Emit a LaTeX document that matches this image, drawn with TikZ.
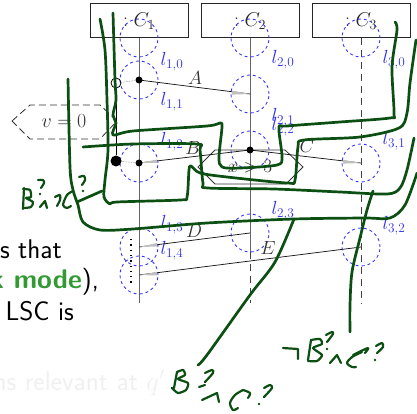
\RequirePackage{fix-cm}
\documentclass[tikz,border=0pt]{standalone}
\usepackage{amsmath}
\definecolor{ink}{HTML}{0B4F12}
\definecolor{lblue}{HTML}{3030F0}
\definecolor{alert}{HTML}{339933}
\tikzset{
 x=1pt,y=-1pt,
 inst/.style={draw=black!85,line width=1pt,minimum width=98pt,minimum height=34pt,inner sep=0pt,text=black!85,font=\fontsize{20}{22}\selectfont},
 life/.style={draw=black!60,line width=0.9pt},
 dashlife/.style={draw=black!75,line width=0.9pt,dash pattern=on 7pt off 5pt},
 loc/.style={draw=blue!80,dash pattern=on 3pt off 3pt,line width=0.85pt,circle,minimum size=38pt,inner sep=0pt},
 lbl/.style={text=lblue,font=\fontsize{19}{21}\selectfont,inner sep=0pt},
 msg/.style={draw=black!90,line width=0.75pt},
 head/.style={fill=black!25,draw=none},
 mname/.style={text=black!80,font=\fontsize{19}{21}\selectfont,inner sep=0pt},
 dot/.style={circle,fill=black,inner sep=0pt,minimum size=7pt},
 body/.style={font=\sffamily\fontsize{27}{30}\selectfont,inner sep=0pt,anchor=base east},
 pen/.style={draw=ink,line width=2.7pt,line cap=round,line join=round},
 pent/.style={draw=ink,line width=2.2pt,line cap=round,line join=round},
 hexa/.style={draw=black!80,line width=0.8pt},
}
\begin{document}
\begin{tikzpicture}
\useasboundingbox (0,0) rectangle (417,414);
% text behind
\node[body] (t1) at (62,258) {s that};
\node[body] (t2) at (99,288) {\textcolor{alert}{\bfseries k mode}),};
\node[body] (t3) at (74,320) {LSC is};
\node[body,text=black!6] (t4) at (165,390) {ns relevant at $q'$};
% instances
\node[inst] (c1) at (139,21) {$:C_1$};
\node[inst] (c2) at (250,21) {$:C_2$};
\node[inst] (c3) at (361,21) {$:C_3$};
\coordinate (e1) at (139,303);
\coordinate (s2) at (250,252);
\coordinate (e2) at (250,303);
\coordinate (e3) at (361,303);
\draw[life] (c1.south) -- (e1);
\draw[life] (c2.south) -- (s2);
\draw[dashlife] (s2) -- (e2);
\draw[dashlife] (c3.south) -- (e3);
% locations
\foreach \n/\x/\y in {a0/139/38,a1/139/80,a2/139/163,a3/139/247,a4/139/275,b0/250/38,b1/250/94,b2/250/150,b3/250/233,d0/361/38,d1/361/163,d2/361/247}
  \node[loc] (\n) at (\x,\y) {};
\node[lbl] (n10) at (172,62) {$l_{1,0}$};
\node[lbl] (n11) at (172,102) {$l_{1,1}$};
\node[lbl] (n12) at (172,142) {$l_{1,2}$};
\node[lbl] (n13) at (172,225) {$l_{1,3}$};
\node[lbl] (n14) at (172,251) {$l_{1,4}$};
\node[lbl] (n20) at (283,60) {$l_{2,0}$};
\node[lbl] (n21) at (283,118) {$l_{2,1}$};
\node[lbl] (n22) at (283,127) {$l_{2,2}$};
\node[lbl] (n23) at (283,211) {$l_{2,3}$};
\node[lbl] (n30) at (394,60) {$l_{3,0}$};
\node[lbl] (n31) at (394,141) {$l_{3,1}$};
\node[lbl] (n32) at (394,226) {$l_{3,2}$};
% hexagons
\coordinate (v1) at (12,121);\coordinate (v2) at (30,105);\coordinate (v3) at (100,105);
\coordinate (v4) at (117,121);\coordinate (v5) at (100,139);\coordinate (v6) at (30,139);
\draw[hexa,dash pattern=on 7pt off 4pt] (v1)--(v2)--(v3)--(v4)--(v5)--(v6)--cycle;
\node[text=black!80,font=\fontsize{20}{22}\selectfont,inner sep=0pt] (vt) at (64,121) {$v=0$};
\coordinate (x1) at (198,167);\coordinate (x2) at (215,150);\coordinate (x3) at (285,150);
\coordinate (x4) at (303,167);\coordinate (x5) at (286,184);\coordinate (x6) at (215,184);
\draw[hexa] (x1)--(x2)--(x3)--(x4)--(x5)--(x6)--cycle;
\node[text=black!80,font=\fontsize{19}{21}\selectfont,inner sep=0pt] (xt) at (250,167) {$x>3$};
% messages
\draw[msg] (a1.center) -- (b1.center);
\draw[msg] (a2.center) -- (b2.center);
\draw[msg] (b2.center) -- (d1.center);
\draw[msg] (b3.center) -- (a3.center);
\draw[msg] (d2.center) -- (a4.center);
\fill[head] (250,94) -- (232,90.6) -- (232,94.6) -- cycle;
\fill[head] (139,163) -- (157,159.5) -- (157,163) -- cycle;
\fill[head] (361,163) -- (343,159.8) -- (343,163.6) -- cycle;
\fill[head] (139,247) -- (157,243) -- (157,246.5) -- cycle;
\fill[head] (139,275) -- (157,272) -- (157,275.5) -- cycle;
\node[mname] (ma) at (195,78) {$A$};
\node[mname] (mb) at (193,148) {$B$};
\node[mname] (mc) at (307,146) {$C$};
\node[mname] (md) at (194,231) {$D$};
\node[mname] (me) at (268,248) {$E$};
% events
\node[dot] (p1) at (139,80) {};
\node[dot] (p2) at (139,163) {};
\node[dot] (p3) at (250,150) {};
% condition
\node[circle,draw=black,line width=0.8pt,inner sep=0pt,minimum size=10pt] (o1) at (116,83) {};
\node[circle,fill=black,inner sep=0pt,minimum size=11pt] (o2) at (116,161) {};
\draw[black,line width=0.8pt] (o1) -- (o2);
\draw[black!50,densely dotted,line width=0.6pt] (o1) -- (p1);
\draw[black!50,densely dotted,line width=0.6pt] (o2) -- (p2);
% coregion
\coordinate (k1) at (131,239);\coordinate (k2) at (131,285);
\draw[black,line width=1.3pt,dash pattern=on 1.3pt off 4pt] (k1) -- (k2);
% hand strokes
\draw[pen] plot[smooth,tension=.5] coordinates {(100,19)(105,50)(107,100)(108,150)(105,180)(104,197)(110,204)(117,202)(180,200)(187,197)(189,170)(191,166)(200,173)(227,177)(287,183)(295,180)(298,147)(304,140)(360,137)(399,128)(407,113)(410,83)(416,40)};
\draw[pen] plot[smooth,tension=.5] coordinates {(113,13)(115,80)(116,100)(113,115)(116,123)(113,135)(133,131)(207,126)(220,123)(222,127)(219,157)(222,167)(240,168)(277,165)(282,157)(279,128)(287,126)(340,122)(390,118)(394,113)(392,67)(397,30)(395,22)};
\draw[pen] plot[smooth,tension=.5] coordinates {(83,147)(133,144)(197,144)(200,150)(203,183)(208,188)(274,189)(340,192)(387,194)(400,188)(407,170)(414,138)};
\draw[pen] plot[smooth,tension=.5] coordinates {(68,79)(70,167)(73,190)(78,205)(83,222)(100,230)(133,229)(207,223)(294,219)(364,218)(390,218)(405,205)(417,173)};
\draw[pen] (77,202) -- (102,191);
\draw[pen] plot[smooth,tension=.5] coordinates {(294,219)(275,262)(250,295)(207,355)(198,365)};
\draw[pen] plot[smooth,tension=.5] coordinates {(373,191)(367,210)(360,238)(352,272)(350,305)(350,332)};
% left B?^C?
\draw[pent] plot[smooth,tension=.4] coordinates {(24,188)(23,209)};
\draw[pent] plot[smooth,tension=.4] coordinates {(23,189)(30,190)(31,197)(26,198)(33,202)(31,207)(24,208)};
\draw[pent] plot[smooth,tension=.5] coordinates {(38,180)(43,180)(44,183)(41,188)};
\fill[ink] (40,194) circle (1.3);
\draw[pent] (40,207) -- (45,201) -- (47,208);
\draw[pent] plot[smooth,tension=.5] coordinates {(55,197)(60,195)(60,200)(57,206)};
\draw[pent] plot[smooth,tension=.5] coordinates {(73,191)(67,195)(63,205)(67,208)(71,206)};
\draw[pent] plot[smooth,tension=.5] coordinates {(79,177)(84,176)(85,180)(82,185)};
\fill[ink] (83,191) circle (1.3);
% middle B?^C?
\draw[pent] plot[smooth,tension=.4] coordinates {(177,372)(174,388)};
\draw[pent] plot[smooth,tension=.4] coordinates {(177,372)(183,370)(185,375)(178,379)(188,383)(186,390)(178,393)(172,388)};
\draw[pent] plot[smooth,tension=.5] coordinates {(205,373)(212,370)(213,373)(205,382)};
\draw[pent] (199,387) -- (205,385);
\draw[pent] (202,400) -- (217,393) -- (219,402);
\draw[pent] plot[smooth,tension=.5] coordinates {(243,390)(235,395)(230,403)(233,410)(238,408)};
\draw[pent] plot[smooth,tension=.5] coordinates {(243,390)(250,393)(248,398)};
\draw[pent] plot[smooth,tension=.5] coordinates {(264,388)(270,385)(272,388)(264,397)};
\fill[ink] (259,404) circle (1.3);
% right not B?^C?
\draw[pent] (283,348) -- (298,349) -- (298,359);
\draw[pent] plot[smooth,tension=.4] coordinates {(311,340)(308,360)};
\draw[pent] plot[smooth,tension=.4] coordinates {(311,340)(320,339)(322,344)(313,348)(322,355)(317,361)(308,361)};
\draw[pent] plot[smooth,tension=.5] coordinates {(326,335)(332,332)(333,334)(327,342)};
\fill[ink] (327,349) circle (1.3);
\draw[pent] (330,363) -- (337,355) -- (341,363);
\draw[pent] plot[smooth,tension=.5] coordinates {(362,352)(352,357)(347,363)(352,367)(356,367)};
\draw[pent] plot[smooth,tension=.5] coordinates {(353,355)(368,348)(365,353)};
\draw[pent] plot[smooth,tension=.5] coordinates {(376,346)(382,343)(383,347)(377,353)};
\fill[ink] (375,360) circle (1.3);
\end{tikzpicture}
\end{document}
